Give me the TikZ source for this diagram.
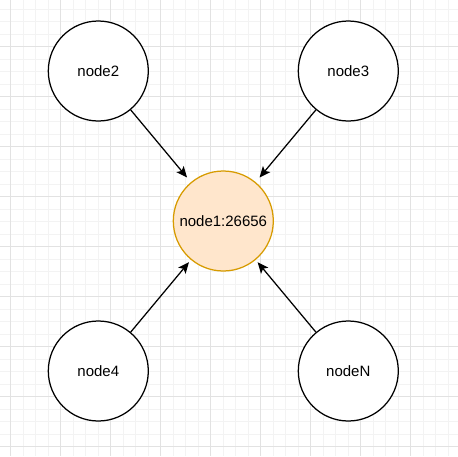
\documentclass[tikz,border=0pt]{standalone}
\usepackage{fontspec}
\setmainfont{Liberation Sans}
\usetikzlibrary{arrows.meta}
\begin{document}
\begin{tikzpicture}[x=1pt,y=-1pt,
  circ/.style={circle,draw=black,line width=1.25pt,minimum size=100pt,inner sep=0pt,fill=white,font=\fontsize{15}{18}\selectfont},
  hot/.style={circ,draw={rgb,255:red,215;green,155;blue,0},fill={rgb,255:red,255;green,230;blue,204}},
  conn/.style={line width=1.25pt,-{Stealth[length=11pt,width=9.5pt,inset=2.5pt]},shorten >=3pt},
  minorgrid/.style={color={rgb,255:red,243;green,243;blue,243},line width=0.8pt},
  majorgrid/.style={color={rgb,255:red,226;green,226;blue,226},line width=0.8pt}]
\useasboundingbox (0,0) rectangle (458,456);
\fill[white] (0,0) rectangle (458,456);
% minor grid
\foreach \k in {0,...,37} {
  \draw[minorgrid] ({-1.8+12.5*\k},0) -- ({-1.8+12.5*\k},456);
  \draw[minorgrid] (0,{-3.3+12.5*\k}) -- (458,{-3.3+12.5*\k});
}
% major grid
\foreach \k in {0,...,9} {
  \draw[majorgrid] ({10.7+50*\k},0) -- ({10.7+50*\k},456);
  \draw[majorgrid] (0,{46.7+50*\k}) -- (458,{46.7+50*\k});
}
\node[hot] (n1) at (223.3,221) {node1:26656};
\node[circ] (n2) at (98.3,71) {node2};
\node[circ] (n3) at (348.3,71) {node3};
\node[circ] (n4) at (98.3,371) {node4};
\node[circ] (nN) at (348.3,371) {nodeN};
\draw[conn,shorten >=6pt] (n2) -- (n1);
\draw[conn,shorten >=6pt] (n3) -- (n1);
\draw[conn] (n4) -- (n1);
\draw[conn] (nN) -- (n1);
\end{tikzpicture}
\end{document}
